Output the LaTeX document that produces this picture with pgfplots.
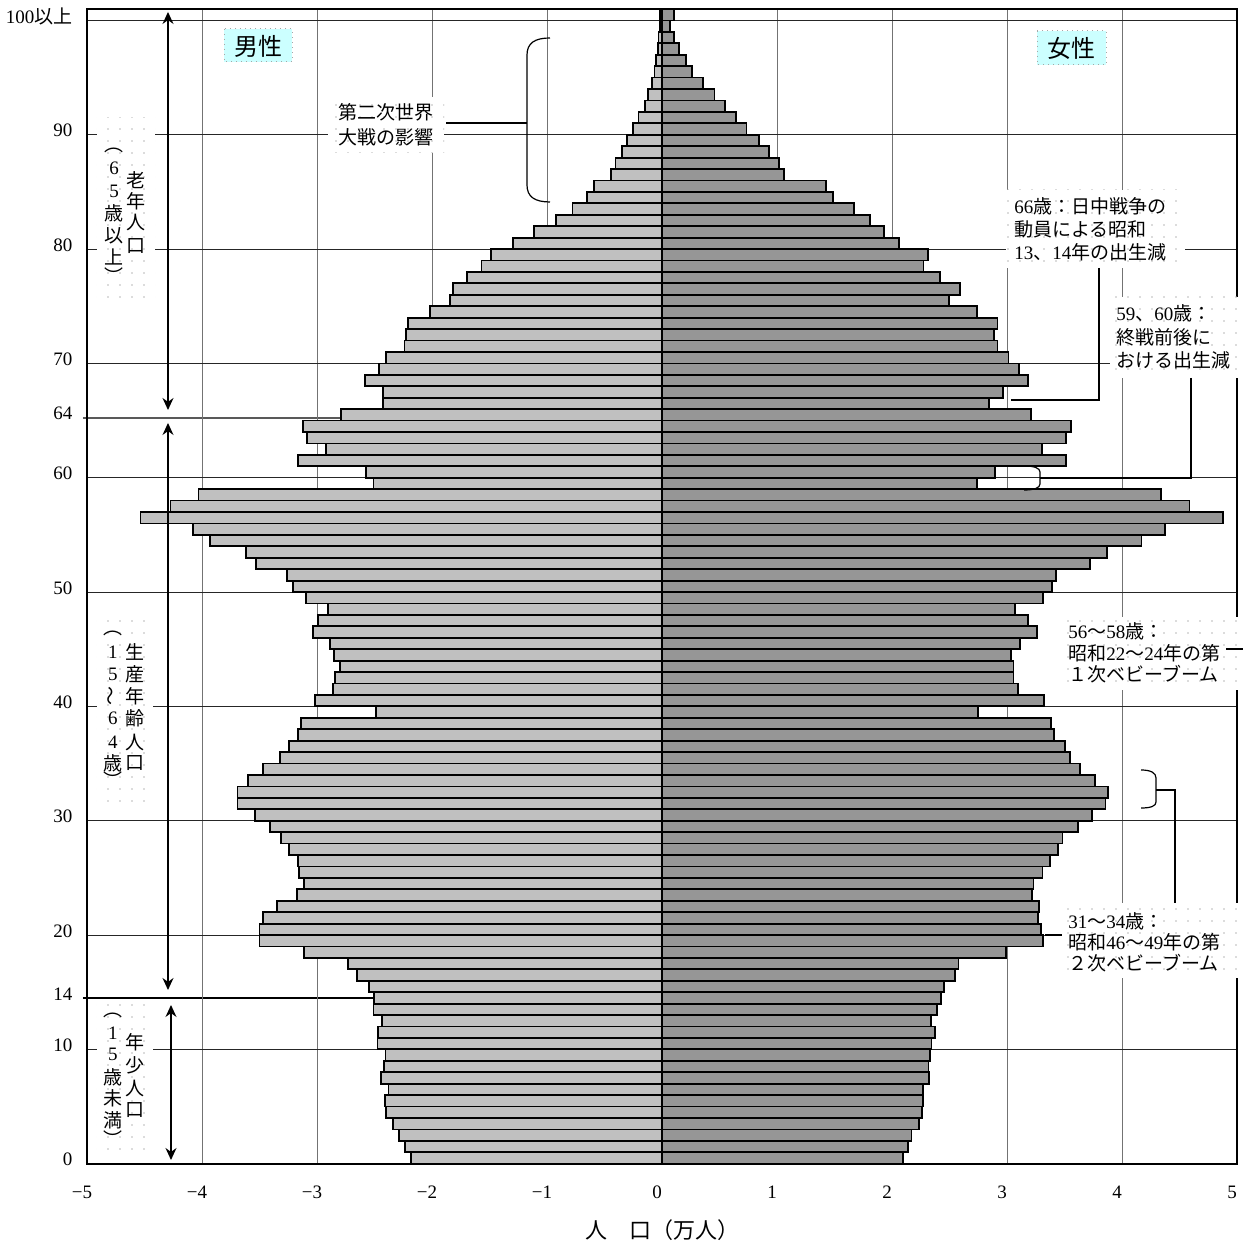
\documentclass[border=0pt]{standalone}
\usepackage{pgfplots}
\pgfplotsset{compat=1.18}
\usepackage{pgfplotstable}
\usepackage{graphicx}
\usepackage{fontspec}
\setmainfont{Liberation Serif}
\newfontfamily\cjk{Noto Sans CJK JP}
\usetikzlibrary{patterns,arrows.meta}
\newcommand\J[1]{{\cjk #1}}
\pgfdeclarepatternformonly{sparsedots}{\pgfqpoint{-1pt}{-1pt}}{\pgfqpoint{1pt}{1pt}}{\pgfqpoint{6pt}{6pt}}{\pgfpathcircle{\pgfpointorigin}{0.45pt}\pgfusepath{fill}}
\definecolor{maleC}{RGB}{192,192,192}
\definecolor{femC}{RGB}{150,150,150}
\definecolor{boxcyan}{RGB}{204,255,255}
\definecolor{dotC}{RGB}{185,185,185}
\tikzset{dotbox/.style={fill=white, postaction={pattern=sparsedots, pattern color=dotC}}}
\newcommand\vc[3]{\node[inner sep=0pt, font=\fontsize{9.5}{9.5}\selectfont] at (#1,#2) {#3};}

\pgfplotstableread{
age male female
0 -2.186 2.098
1 -2.237 2.137
2 -2.285 2.169
3 -2.337 2.233
4 -2.398 2.261
5 -2.412 2.272
6 -2.378 2.272
7 -2.443 2.322
8 -2.419 2.318
9 -2.405 2.329
10 -2.474 2.343
11 -2.467 2.372
12 -2.433 2.336
13 -2.509 2.393
14 -2.502 2.425
15 -2.550 2.450
16 -2.653 2.550
17 -2.732 2.578
18 -3.114 2.991
19 -3.500 3.315
20 -3.500 3.298
21 -3.472 3.269
22 -3.345 3.280
23 -3.171 3.216
24 -3.116 3.230
25 -3.156 3.308
26 -3.166 3.372
27 -3.245 3.444
28 -3.310 3.483
29 -3.410 3.615
30 -3.537 3.739
31 -3.692 3.857
32 -3.692 3.875
33 -3.599 3.768
34 -3.469 3.636
35 -3.324 3.551
36 -3.242 3.501
37 -3.162 3.408
38 -3.138 3.383
39 -2.488 2.749
40 -3.014 3.323
41 -2.860 3.095
42 -2.842 3.056
43 -2.798 3.056
44 -2.853 3.038
45 -2.887 3.116
46 -3.032 3.262
47 -2.994 3.180
48 -2.901 3.070
49 -3.099 3.312
50 -3.212 3.390
51 -3.262 3.426
52 -3.527 3.722
53 -3.617 3.868
54 -3.930 4.170
55 -4.078 4.377
56 -4.535 4.875
57 -4.274 4.587
58 -4.030 4.338
59 -2.509 2.742
60 -2.571 2.899
61 -3.162 3.511
62 -2.922 3.305
63 -3.087 3.511
64 -3.121 3.554
65 -2.791 3.209
66 -2.426 2.842
67 -2.426 2.963
68 -2.584 3.184
69 -2.460 3.105
70 -2.398 3.013
71 -2.240 2.917
72 -2.226 2.885
73 -2.206 2.917
74 -2.020 2.742
75 -1.845 2.497
76 -1.815 2.592
77 -1.694 2.420
78 -1.570 2.274
79 -1.488 2.313
80 -1.298 2.064
81 -1.112 1.929
82 -0.922 1.811
83 -0.779 1.669
84 -0.651 1.488
85 -0.593 1.427
86 -0.442 1.064
87 -0.405 1.018
88 -0.345 0.932
89 -0.303 0.840
90 -0.255 0.734
91 -0.204 0.641
92 -0.148 0.545
93 -0.120 0.456
94 -0.087 0.356
95 -0.066 0.263
96 -0.050 0.210
97 -0.035 0.150
98 -0.030 0.107
99 -0.020 0.071
100 -0.020 0.107
}\pop

\begin{document}
\begin{tikzpicture}
\path[use as bounding box] (-43.5pt,-40.65pt) rectangle (578pt,581.85pt);
\begin{scope}[x=0.5pt,y=-0.5pt,shift={(-43.5pt,581.85pt)}]
\draw[black!65, line width=0.6pt] (83,418) -- (662,418);
\draw[black, line width=0.6pt] (83,998) -- (662,998);
\end{scope}

\begin{axis}[
  at={(0pt,0pt)}, anchor=south west,
  scale only axis, width=575pt, height=577.35pt,
  xmin=-5, xmax=5, ymin=-0.5, ymax=100.5,
  xtick={-5,-4,...,5},
  xticklabels={−5,−4,−3,−2,−1,0,1,2,3,4,5},
  ytick={-0.5,9.5,19.5,29.5,39.5,49.5,59.5,69.5,79.5,89.5,99.5},
  yticklabels={0,10,20,30,40,50,60,70,80,90,100\J{以上}},
  extra y ticks={14,64.75},
  extra y tick labels={14,64},
  extra y tick style={grid=none},
  xmajorgrids, ymajorgrids,
  x grid style={black!55, line width=0.5pt},
  y grid style={black!85, line width=0.5pt},
  major tick length=0pt,
  axis line style={line width=1pt},
  tick label style={font=\fontsize{9.5}{9.5}\selectfont},
  xticklabel style={xshift=-2.5pt, yshift=-7.4pt},
  yticklabel style={xshift=-3.8pt, yshift=2pt},
]
\addplot[xbar, bar width=1, bar shift=0pt, fill=maleC, draw=black, line width=0.9pt] table[x=male,y=age]{\pop};
\addplot[xbar, bar width=1, bar shift=0pt, fill=femC, draw=black, line width=0.9pt] table[x=female,y=age]{\pop};
\end{axis}

\begin{scope}[x=0.5pt,y=-0.5pt,shift={(-43.5pt,581.85pt)}]
% gender boxes
\path[fill=boxcyan, draw=gray!70, dotted, line width=0.5pt] (224,29) rectangle (292,62);
\node[inner sep=0pt] at (258,46) {\cjk\fontsize{12}{12}\selectfont 男性};
\path[fill=boxcyan, draw=gray!70, dotted, line width=0.5pt] (1037,31) rectangle (1106,65);
\node[inner sep=0pt] at (1071,48) {\cjk\fontsize{12}{12}\selectfont 女性};

% WWII annotation
\path[dotbox] (328,97) rectangle (444,153);
\node[inner sep=0pt, align=left, font=\fontsize{9.5}{12.5}\selectfont] at (386,125) {\J{第二次世界}\\\J{大戦の影響}};
\draw[line width=0.6pt] (446,123) -- (527,123);
\draw[line width=0.6pt] (550,38) .. controls (535,38) and (527,43) .. (527,55) -- (527,185) .. controls (527,197) and (535,202) .. (550,202);

% 66
\path[dotbox] (1006,190) rectangle (1185,268);
\node[inner sep=0pt, anchor=west, align=left, font=\fontsize{9.5}{11.5}\selectfont] at (1014,229) {66\J{歳：日中戦争の}\\\J{動員による昭和}\\13\J{、}14\J{年の出生減}};
\draw[line width=0.6pt] (1099,268) -- (1099,400) -- (1011,400);

% 59 60
\path[dotbox] (1110,297) rectangle (1242,378);
\node[inner sep=0pt, anchor=west, align=left, font=\fontsize{9.5}{11.75}\selectfont] at (1116,337) {59\J{、}60\J{歳：}\\\J{終戦前後に}\\\J{おける出生減}};
\draw[line width=0.6pt] (1191,378) -- (1191,478) -- (1040,478);
\draw[line width=0.6pt] (1024,466) .. controls (1034,466) and (1040,468) .. (1040,472) -- (1040,484) .. controls (1040,488) and (1034,490) .. (1024,490);

% 56-58
\path[dotbox] (1062,617) rectangle (1240,690);
\node[inner sep=0pt, anchor=west, align=left, font=\fontsize{9.5}{10.75}\selectfont] at (1068,653) {56\J{～}58\J{歳：}\\\J{昭和}22\J{～}24\J{年の第}\\\J{１次ベビーブーム}};
\draw[line width=0.6pt] (1226,649) -- (1243,649);

% 31-34
\path[dotbox] (1062,903) rectangle (1240,978);
\node[inner sep=0pt, anchor=west, align=left, font=\fontsize{9.5}{10.5}\selectfont] at (1068,942) {31\J{～}34\J{歳：}\\\J{昭和}46\J{～}49\J{年の第}\\\J{２次ベビーブーム}};
\draw[line width=0.6pt] (1141,770) .. controls (1151,770) and (1156,773) .. (1156,778) -- (1156,802) .. controls (1156,806) and (1151,808) .. (1141,808);
\draw[line width=0.6pt] (1156,790) -- (1175,790) -- (1175,903);
\draw[line width=0.6pt] (1045,935) -- (1062,935);

% left vertical labels
\path[dotbox] (97,118) rectangle (155,303);
\vc{114}{150}{\J{︵}}
\vc{114}{168}{6}
\vc{114}{191}{5}
\vc{114}{213}{\J{歳}}
\vc{114}{236}{\J{以}}
\vc{114}{257}{\J{上}}
\vc{114}{276}{\J{︶}}
\vc{136}{180}{\J{老}}
\vc{136}{201}{\J{年}}
\vc{136}{223}{\J{人}}
\vc{136}{246}{\J{口}}

\path[dotbox] (97,612) rectangle (153,802);
\vc{113}{633}{\J{︵}}
\vc{113}{652}{1}
\vc{113}{674}{5}
\vc{113}{696}{\rotatebox{90}{\J{～}}}
\vc{113}{718}{6}
\vc{113}{742}{4}
\vc{113}{763}{\J{歳}}
\vc{113}{780}{\J{︶}}
\vc{135}{652}{\J{生}}
\vc{135}{674}{\J{産}}
\vc{135}{696}{\J{年}}
\vc{135}{718}{\J{齢}}
\vc{135}{742}{\J{人}}
\vc{135}{763}{\J{口}}

\path[dotbox] (97,1001) rectangle (153,1160);
\vc{113}{1015}{\J{︵}}
\vc{113}{1033}{1}
\vc{113}{1054}{5}
\vc{113}{1077}{\J{歳}}
\vc{113}{1098}{\J{未}}
\vc{113}{1120}{\J{満}}
\vc{113}{1139}{\J{︶}}
\vc{135}{1042}{\J{年}}
\vc{135}{1065}{\J{少}}
\vc{135}{1088}{\J{人}}
\vc{135}{1110}{\J{口}}

% arrows
\draw[{Stealth[length=6pt,width=5.5pt]}-{Stealth[length=6pt,width=5.5pt]}, line width=0.6pt] (168,12) -- (168,410);
\draw[{Stealth[length=6pt,width=5.5pt]}-{Stealth[length=6pt,width=5.5pt]}, line width=0.6pt] (168,423) -- (168,990);
\draw[{Stealth[length=6pt,width=5.5pt]}-{Stealth[length=6pt,width=5.5pt]}, line width=0.6pt] (171,1005) -- (171,1160);

% x label
\node[inner sep=0pt] at (662,1230) {\cjk\fontsize{11}{11}\selectfont 人　口（万人）};
\end{scope}
\end{tikzpicture}
\end{document}
